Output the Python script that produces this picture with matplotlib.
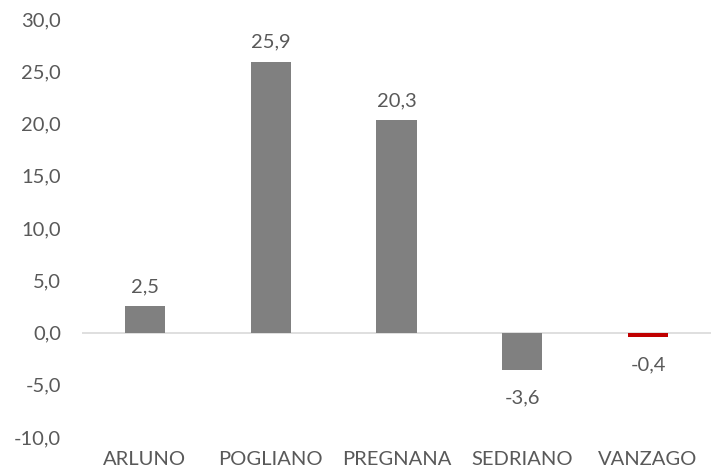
import matplotlib.pyplot as plt
from matplotlib.ticker import FuncFormatter

comuni = ["ARLUNO", "POGLIANO", "PREGNANA", "SEDRIANO", "VANZAGO"]
valori = [2.5, 25.9, 20.3, -3.6, -0.4]
colori = ["#808080", "#808080", "#808080", "#808080", "#C00000"]

plt.rcParams["font.family"] = ["Lato", "DejaVu Sans"]
text_color = "#595959"
fs = 14.5

fig = plt.figure(figsize=(7.11, 4.74), dpi=100)
ax = fig.add_axes([82 / 711, 1 - 437 / 474, 629 / 711, (437 - 19) / 474])

x = range(len(comuni))
bars = ax.bar(x, valori, width=0.32, color=colori, zorder=2)

ax.set_xlim(-0.5, len(comuni) - 0.5)
ax.set_ylim(-10, 30)
ax.set_yticks(range(-10, 31, 5))
ax.yaxis.set_major_formatter(FuncFormatter(lambda v, _: f"{v:.1f}".replace(".", ",")))
ax.axhline(0, color="#D9D9D9", lw=1.2, zorder=1)

for spine in ax.spines.values():
    spine.set_visible(False)
ax.tick_params(axis="both", length=0, labelsize=fs, colors=text_color)
ax.tick_params(axis="y", pad=15)
ax.tick_params(axis="x", pad=10)
ax.set_xticks(list(x))
ax.set_xticklabels(comuni)

# value labels, comma as decimal separator
for b, v in zip(bars, valori):
    off = 8 if v >= 0 else -14
    ax.annotate(f"{v:.1f}".replace(".", ","), (b.get_x() + b.get_width() / 2, v),
                xytext=(0, off), textcoords="offset points",
                ha="center", va="bottom" if v >= 0 else "top",
                fontsize=fs, color=text_color)

fig.savefig("out.png", dpi=100)
